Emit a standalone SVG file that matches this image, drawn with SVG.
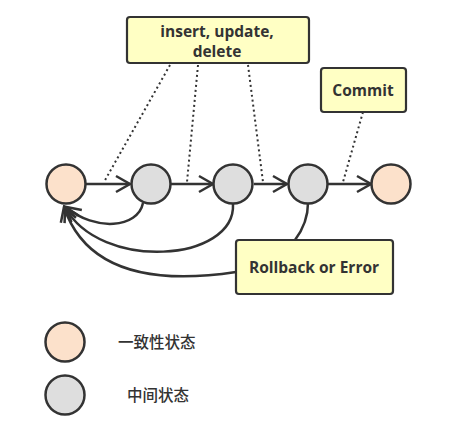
<svg xmlns="http://www.w3.org/2000/svg" width="467" height="427" viewBox="0 0 467 427">
<style>
.box{fill:#FFFFC4;stroke:#333;stroke-width:2.2}
.lbl{font-family:"Open Sans","Liberation Sans",sans-serif;font-weight:bold;font-size:15.5px;fill:#333;text-anchor:middle}
.cons{fill:#FCE1CB;stroke:#333;stroke-width:2.5}
.mid{fill:#DEDEDE;stroke:#333;stroke-width:2.5}
.edge{fill:none;stroke:#333;stroke-width:2.5}
.dot{fill:none;stroke:#333;stroke-width:2;stroke-dasharray:2 3}
.leg{font-family:"Noto Sans CJK SC","Noto Sans",sans-serif;font-size:15.5px;font-weight:500;fill:#333}
</style>
<defs>
<marker id="arr" markerUnits="userSpaceOnUse" markerWidth="20" markerHeight="20" viewBox="-16 -10 20 20" refX="0" refY="0" orient="auto">
<path d="M-14,-8 L0,0 L-14,8" fill="none" stroke="#333" stroke-width="2.5"/>
</marker>
</defs>
<rect width="467" height="427" fill="#fff"/>
<g id="connectors">
<path class="dot" d="M170,65 L104,182"/>
<path class="dot" d="M198,65 L187,182"/>
<path class="dot" d="M248,65 L263,182"/>
<path class="dot" d="M363,112 L343,182"/>
<path class="edge" d="M86,184 L130,184" marker-end="url(#arr)"/>
<path class="edge" d="M171,184 L213,184" marker-end="url(#arr)"/>
<path class="edge" d="M254,184 L287,184" marker-end="url(#arr)"/>
<path class="edge" d="M328,184 L371,184" marker-end="url(#arr)"/>
<path class="edge" d="M143,203 C138,228 95,232 66,207" marker-end="url(#arr)"/>
<path class="edge" d="M233,204 C236,262 100,272 65,207" marker-end="url(#arr)"/>
<path class="edge" d="M236,272 C150,285 85,270 64,207" marker-end="url(#arr)"/>
<path class="edge" d="M308,203 C308,220 301,232 295,240"/>
</g>
<g id="n-insert">
<rect class="box" x="127" y="17" width="182" height="46" rx="3"/>
<text class="lbl" x="217" y="37">insert, update,</text>
<text class="lbl" x="217" y="57">delete</text>
</g>
<g id="n-commit">
<rect class="box" x="321" y="68" width="85" height="44" rx="3"/>
<text class="lbl" x="363" y="96">Commit</text>
</g>
<g id="n-rollback">
<rect class="box" x="236" y="240" width="157" height="54" rx="3"/>
<text class="lbl" x="314" y="273">Rollback or Error</text>
</g>
<g id="s1"><circle class="cons" cx="66" cy="184" r="19.5"/></g>
<g id="s2"><circle class="mid" cx="151" cy="184" r="19.5"/></g>
<g id="s3"><circle class="mid" cx="233" cy="184" r="19.5"/></g>
<g id="s4"><circle class="mid" cx="308" cy="184" r="19.5"/></g>
<g id="s5"><circle class="cons" cx="391" cy="184" r="19.5"/></g>
<g id="legend-cons">
<circle class="cons" cx="65" cy="342" r="19.5"/>
<text class="leg" x="118" y="348">一致性状态</text>
</g>
<g id="legend-mid">
<circle class="mid" cx="65" cy="395" r="19.5"/>
<text class="leg" x="127" y="401">中间状态</text>
</g>
</svg>
